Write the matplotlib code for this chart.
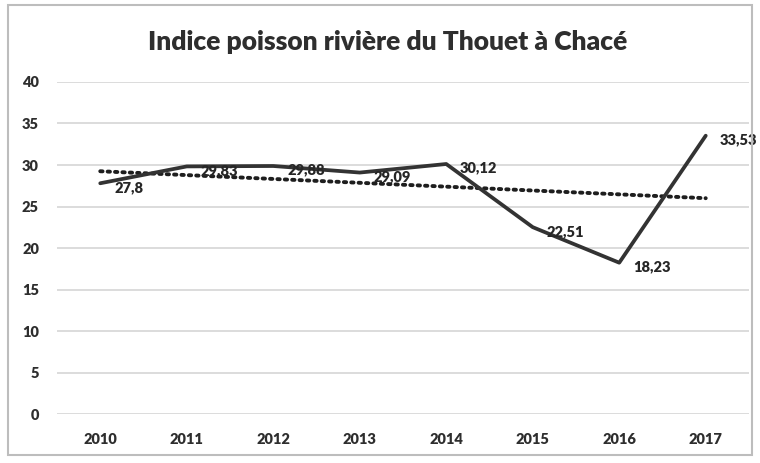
import matplotlib.pyplot as plt
import numpy as np
from matplotlib.patches import Rectangle

# donnees
annees = ['2010', '2011', '2012', '2013', '2014', '2015', '2016', '2017']
indice = [27.8, 29.83, 29.88, 29.09, 30.12, 22.51, 18.23, 33.53]
etiquettes = ['27,8', '29,83', '29,88', '29,09', '30,12', '22,51', '18,23', '33,53']
y_ticks = [0, 5, 10, 15, 20, 25, 30, 35, 40]

plt.rcParams['font.family'] = ['Lato', 'DejaVu Sans']

fig = plt.figure(figsize=(7.6, 4.63), dpi=100)
ax = fig.add_axes([0.075, 0.1058, 0.9105, 0.7171])

x = np.arange(len(annees))

# grille
for t in y_ticks:
    ax.axhline(t, color='#d9d9d9', lw=1.3, zorder=0)

# courbe principale
ax.plot(x, indice, color='#333333', lw=2.7, solid_capstyle='round', zorder=3)

# tendance lineaire (comme la courbe de tendance Excel)
a, b = np.polyfit(x, indice, 1)
ax.plot(x, a * x + b, color='#1e1e1e', lw=2.8, linestyle=(0, (0.6, 1.3)),
        dash_capstyle='round', zorder=2)

for xi, yi, lab in zip(x, indice, etiquettes):
    ax.annotate(lab, (xi, yi), xytext=(10, -3), textcoords='offset points',
                ha='left', va='center', fontsize=10.5, fontweight='heavy',
                color='#262626', zorder=4)

ax.set_xlim(-0.5, len(annees) - 0.5)
ax.set_ylim(0, 40)
ax.set_xticks(x)
ax.set_xticklabels(annees)
ax.set_yticks(y_ticks)
ax.tick_params(length=0, labelsize=10.5, labelcolor='#2e2e2e')
ax.tick_params(axis='x', pad=14)
ax.tick_params(axis='y', pad=13)
for lab in ax.get_xticklabels() + ax.get_yticklabels():
    lab.set_fontweight('heavy')
for s in ax.spines.values():
    s.set_visible(False)

fig.text(0.51, 0.909, 'Indice poisson rivière du Thouet à Chacé', ha='center',
         va='center', fontsize=19, fontweight='heavy', color='#2e2e2e')

# cadre du graphique
fig.patches.append(Rectangle((0.011, 0.017), 0.978, 0.972, transform=fig.transFigure,
                             fill=False, edgecolor='#bdbdbd', lw=1.5))

plt.savefig('out.png', dpi=100, facecolor='white')
